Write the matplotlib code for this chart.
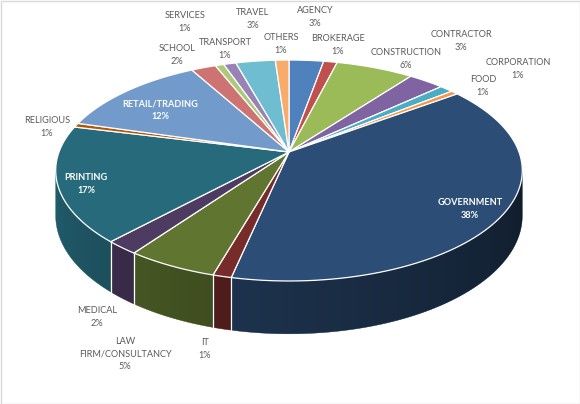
import numpy as np
import matplotlib.pyplot as plt
from matplotlib.patches import Polygon, Rectangle

plt.rcParams['font.family'] = ['Lato', 'DejaVu Sans']

# data: share of respondents by sector
categories = ['AGENCY', 'BROKERAGE', 'CONSTRUCTION', 'CONTRACTOR', 'CORPORATION',
              'FOOD', 'GOVERNMENT', 'IT', 'LAW FIRM/CONSULTANCY', 'MEDICAL',
              'PRINTING', 'RELIGIOUS', 'RETAIL/TRADING', 'SCHOOL', 'SERVICES',
              'TRANSPORT', 'TRAVEL', 'OTHERS']
values = [2.8, 1.1, 6.3, 2.9, 1.1, 0.6, 38.3, 1.1, 5.4, 2.0,
          16.9, 0.6, 12.4, 2.0, 0.7, 1.0, 3.2, 1.1]

colors = ['#4F81BD', '#C0504D', '#9BBB59', '#8064A2', '#4BACC6', '#F79646',
          '#2C4D75', '#772C2A', '#5F7530', '#4D3B62', '#276A7C', '#B65708',
          '#729ACA', '#CD7371', '#AFC97A', '#9983B5', '#6FBDD1', '#F9AB6B']

# labels drawn inside the slice (white bold), the rest sit outside in grey
inside = ['GOVERNMENT', 'PRINTING', 'RETAIL/TRADING']

# label anchor points in pixel space (Excel "best fit" layout)
label_pos = {
    'AGENCY': (315, 17), 'BROKERAGE': (338, 45), 'CONSTRUCTION': (406, 59),
    'CONTRACTOR': (461, 41), 'CORPORATION': (518, 69), 'FOOD': (483, 86),
    'GOVERNMENT': (470, 209), 'IT': (205, 349),
    'LAW FIRM/CONSULTANCY': (125, 354), 'MEDICAL': (97, 317),
    'PRINTING': (86, 184), 'RELIGIOUS': (47, 127), 'RETAIL/TRADING': (160, 110),
    'SCHOOL': (177, 55), 'SERVICES': (185, 22), 'TRANSPORT': (225, 49),
    'TRAVEL': (253, 19), 'OTHERS': (281, 44),
}

W, H = 580, 404
cx, cy = 289, 152        # where the slices meet on the top face
rx, ry = 230, 107.4      # half axes of the disc
persp = 0.1674           # perspective strength
depth = 44               # thickness of the disc


def project(theta, drop=0.0):
    # theta clockwise from 12 o'clock
    X = np.sin(theta)
    Z = np.cos(theta)
    w = 1 + persp * Z
    return cx + rx * X / w, cy - ry * Z / w + drop / w


def side_poly(a0, a1, n=60):
    ts = np.linspace(a0, a1, n)
    xt, yt = project(ts)
    xb, yb = project(ts[::-1], depth)
    return np.column_stack([np.r_[xt, xb], np.r_[yt, yb]])


fig = plt.figure(figsize=(5.8, 4.04), dpi=100)
ax = fig.add_axes([0, 0, 1, 1])
ax.set_xlim(0, W)
ax.set_ylim(H, 0)
ax.axis('off')

total = sum(values)
bounds = np.concatenate([[0], np.cumsum(values)]) / total * 2 * np.pi

# visible part of the rim lies between the two silhouette points
t_right = np.arccos(-persp)
t_left = 2 * np.pi - t_right

# rim: flat slice colours
for i, c in enumerate(colors):
    a0, a1 = max(bounds[i], t_right), min(bounds[i + 1], t_left)
    if a1 <= a0:
        continue
    ax.add_patch(Polygon(side_poly(a0, a1), closed=True, fc=c, ec=c, lw=0.3))

# rim shading: dark overlay, lighter on the left, darker on the right
tt = np.linspace(t_left, t_right, 400)
xx, _ = project(tt)
u = (t_left - tt) / (t_left - t_right)
dark = 1 - (0.87 - 0.51 * u)
cols = np.arange(W) + 0.5
alpha = np.interp(cols, xx, dark)
img = np.zeros((1, W, 4))
img[0, :, 3] = alpha
rim = Polygon(side_poly(t_right, t_left, 200), closed=True, fc='none', ec='none',
              transform=ax.transData)
ax.add_patch(rim)
im = ax.imshow(img, extent=(0, W, H, 0), aspect='auto', interpolation='bilinear', zorder=2)
im.set_clip_path(rim)

for i in range(len(colors) + 1):
    t = bounds[i]
    if t_right < t < t_left:
        x0, y0 = project(t)
        x1, y1 = project(t, depth)
        ax.plot([x0, x1], [y0, y1], color='white', lw=0.9, zorder=3)

# top face
for i, c in enumerate(colors):
    ts = np.linspace(bounds[i], bounds[i + 1], 80)
    xs, ys = project(ts)
    pts = np.column_stack([np.r_[cx, xs], np.r_[cy, ys]])
    ax.add_patch(Polygon(pts, closed=True, fc=c, ec='white', lw=0.9, zorder=4))

# labels
for name, v in zip(categories, values):
    pct = '{:.0f}%'.format(v / total * 100)
    txt = name.replace(' ', '\n') + '\n' + pct
    x, y = label_pos[name]
    if name in inside:
        ax.text(x, y, txt, ha='center', va='center', fontsize=6.6, zorder=5,
                color='white', fontweight='bold', linespacing=1.5)
    else:
        ax.text(x, y, txt, ha='center', va='center', fontsize=6.6, zorder=5,
                color='#595959', linespacing=1.5)

ax.add_patch(Rectangle((0.5, 0.5), W - 1, H - 1, fill=False, ec='#D9D9D9', lw=1, zorder=6))

fig.savefig('out.png', dpi=100)
